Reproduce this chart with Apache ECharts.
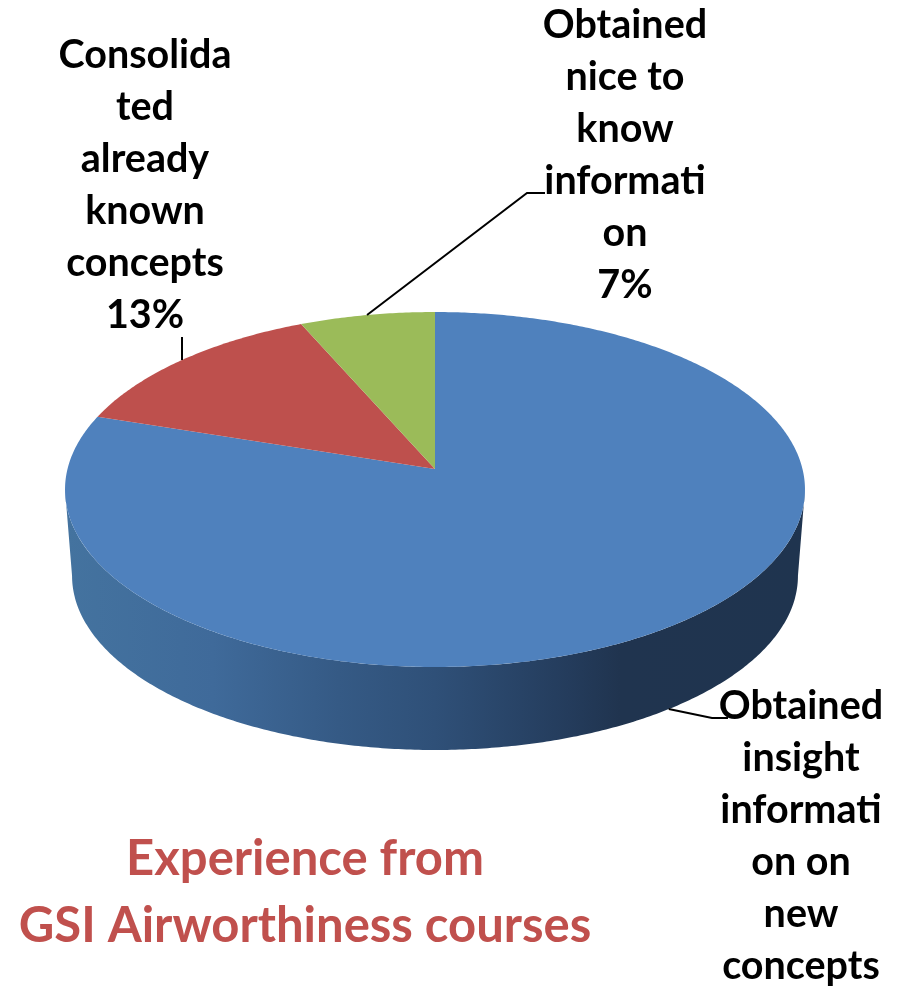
<!DOCTYPE html>
<html>
<head>
<meta charset="utf-8">
<style>html,body{margin:0;padding:0;background:#fff}#c{width:898px;height:986px}</style>
<script src="https://cdn.jsdelivr.net/npm/echarts@6/dist/echarts.min.js"></script>
</head>
<body>
<div id="c"></div>
<script>
const categories = [
  "Obtained\ninsight\ninformati\non on\nnew\nconcepts",
  "Consolida\nted\nalready\nknown\nconcepts\n13%",
  "Obtained\nnice to\nknow\ninformati\non\n7%"
];
const values = [80, 13.4, 6.6];
const sliceColors = ["#4F81BD", "#BE504D", "#9BBB59"];
const titleLines = ["Experience from", "GSI Airworthiness courses"];

// Projection of the tilted disc onto the page
const disc = {cx: 435, cy: 469, a: 367.5, b: 175.1, p: -0.1155, wallScale: 0.981, wallDrop: 86.8};
// Where each label and the end of its leader sit
const labelLayout = [
  {x: 801, y: 680, leader: [[712, 718], [728, 718]], onWall: true},
  {x: 145, y: 29,  leader: [[182, 337]]},
  {x: 625, y: -1,  leader: [[527, 193], [545, 193]]}
];

const total = values.reduce((s, v) => s + v, 0);
function rim(theta, wall) {
  const u = Math.sin(theta), v = -Math.cos(theta), w = 1 + disc.p * v;
  const s = wall ? disc.wallScale : 1, d = wall ? disc.wallDrop : 0;
  return [disc.cx + s * disc.a * u / w, disc.cy + d + s * disc.b * v / w];
}
function arc(t0, t1, wall) {
  const n = Math.max(2, Math.ceil(Math.abs(t1 - t0) / 0.01)), pts = [];
  for (let i = 0; i <= n; i++) pts.push(rim(t0 + (t1 - t0) * i / n, wall));
  return pts;
}
function startOf(idx) {
  let s = 0;
  for (let i = 0; i < idx; i++) s += values[i];
  return s / total * Math.PI * 2;
}

function renderItem(params, api) {
  const i = params.dataIndex, val = api.value(0);
  const t0 = startOf(i), t1 = t0 + val / total * Math.PI * 2, mid = (t0 + t1) / 2;
  const children = [];
  // The outer wall is visible only on the front half, which the first slice covers
  if (i === 0) {
    const tL = (180 - 83.4) * Math.PI / 180, tR = (180 + 83.4) * Math.PI / 180;
    children.push({
      type: 'polygon',
      shape: {points: arc(tL, tR, false).concat(arc(tR, tL, true))},
      style: {fill: {type: 'linear', x: 0, y: 0, x2: 1, y2: 0, colorStops: [
        {offset: 0, color: '#44739F'},
        {offset: 0.2, color: '#3F6A9A'},
        {offset: 0.37, color: '#355A85'},
        {offset: 0.5, color: '#2F5078'},
        {offset: 0.68, color: '#243C5C'},
        {offset: 0.75, color: '#20344F'},
        {offset: 1, color: '#1F344F'}
      ]}}
    });
  }
  children.push({
    type: 'polygon',
    shape: {points: [[disc.cx, disc.cy]].concat(arc(t0, t1, false))},
    style: {fill: sliceColors[i]}
  });
  const L = labelLayout[i];
  children.push({
    type: 'polyline',
    z2: 5,
    shape: {points: [rim(mid, !!L.onWall)].concat(L.leader)},
    style: {stroke: '#000', lineWidth: 2, fill: null}
  });
  children.push({
    type: 'text',
    z2: 10,
    x: L.x, y: L.y,
    style: {
      text: categories[i],
      fill: '#000',
      font: 'bold 39.5px Lato',
      lineHeight: 52,
      align: 'center',
      verticalAlign: 'top'
    }
  });
  return {type: 'group', children};
}

const chart = echarts.init(document.getElementById('c'), null, {renderer: 'canvas'});
chart.setOption({
  animation: false,
  backgroundColor: '#fff',
  title: {
    text: titleLines.join('\n'),
    left: 300, top: 821, textAlign: 'center',
    textStyle: {color: '#C0504D', fontFamily: 'Lato', fontWeight: 'bold', fontSize: 49, lineHeight: 67}
  },
  series: [{
    type: 'custom',
    coordinateSystem: 'none',
    renderItem,
    data: values.map(v => [v])
  }]
});
</script>
</body>
</html>
